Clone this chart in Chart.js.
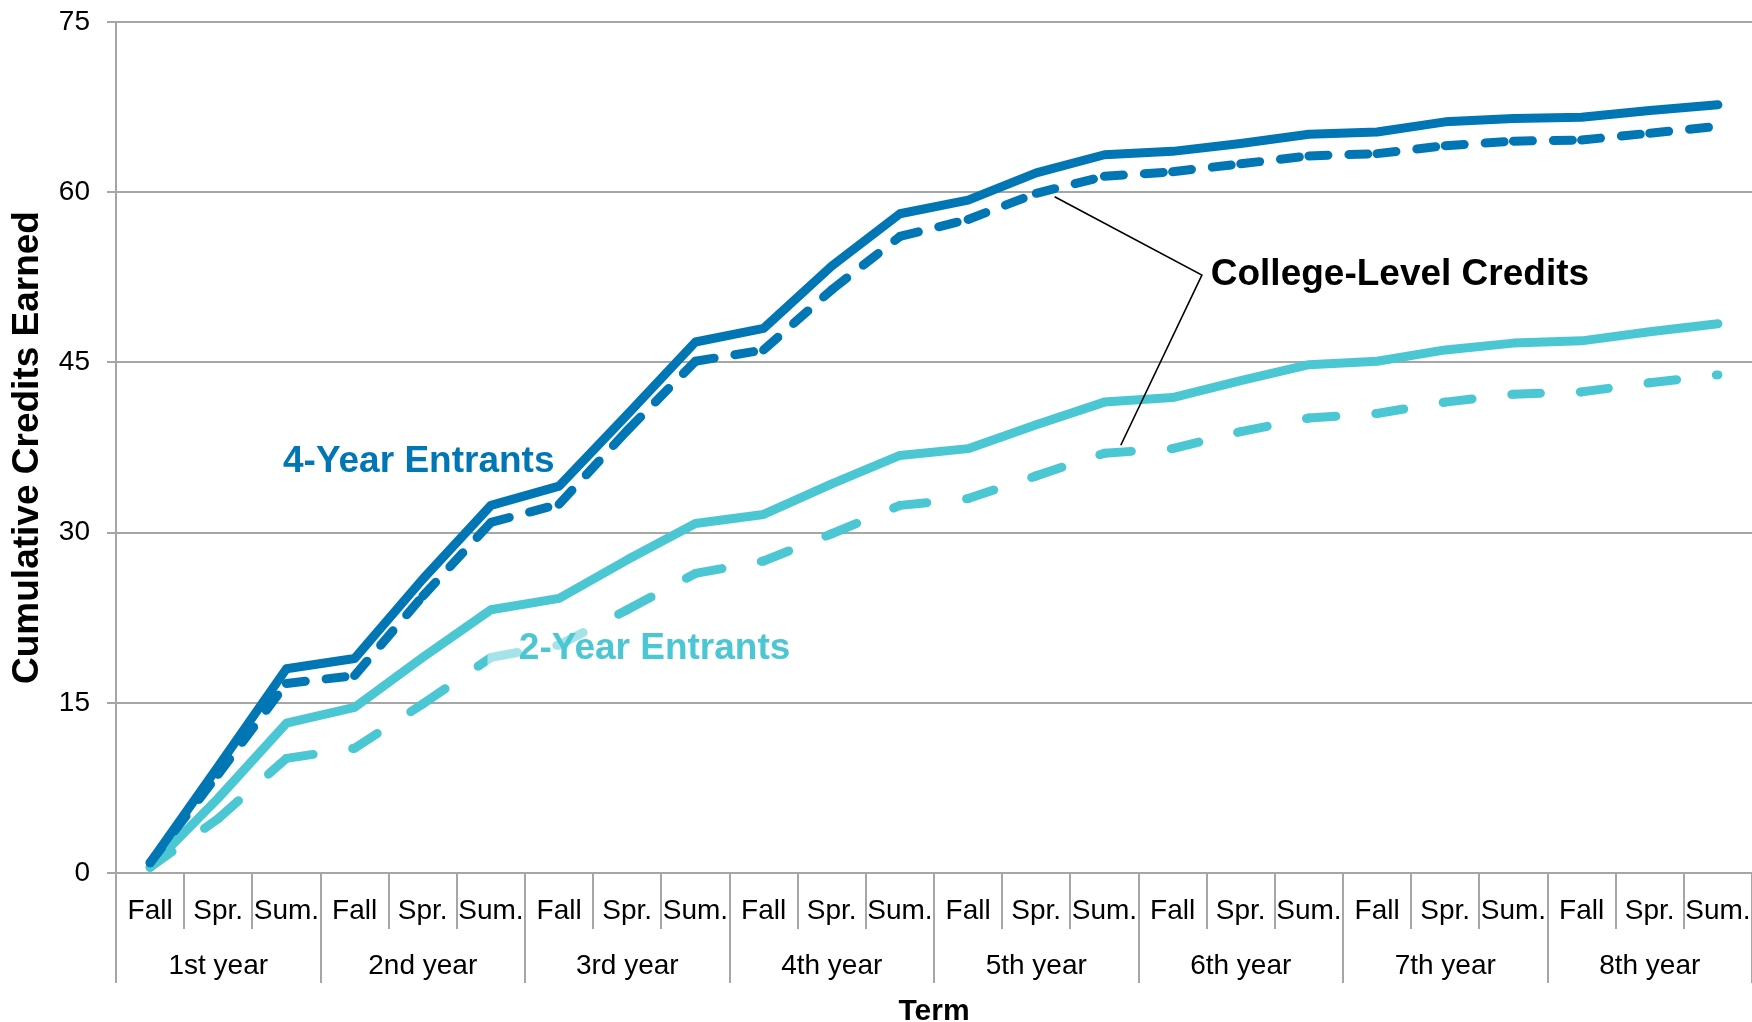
<!DOCTYPE html>
<html>
<head>
  <meta charset="utf-8">
  <title>Cumulative Credits Earned</title>
  <script src="https://cdn.jsdelivr.net/npm/chart.js"></script>
  <style>
    html, body { margin: 0; padding: 0; background: #fff; }
    #wrap { width: 1752px; height: 1022px; }
  </style>
</head>
<body>
  <div id="wrap"><canvas id="myChart"></canvas></div>

  <script>
    // Etiquetas del eje X (dos niveles)
    var terms = ['Fall', 'Spr.', 'Sum.', 'Fall', 'Spr.', 'Sum.', 'Fall', 'Spr.', 'Sum.',
                 'Fall', 'Spr.', 'Sum.', 'Fall', 'Spr.', 'Sum.', 'Fall', 'Spr.', 'Sum.',
                 'Fall', 'Spr.', 'Sum.', 'Fall', 'Spr.', 'Sum.'];
    var years = ['1st year', '2nd year', '3rd year', '4th year', '5th year', '6th year', '7th year', '8th year'];

    // Créditos acumulados (todos) y solo college-level
    var fourYearAll = [0.9, 9.4, 18.0, 18.9, 25.9, 32.4, 34.1, 40.4, 46.8, 48.0, 53.5, 58.1,
                       59.3, 61.7, 63.3, 63.6, 64.3, 65.1, 65.3, 66.2, 66.5, 66.6, 67.2, 67.7];
    var fourYearCollege = [0.9, 8.7, 16.7, 17.4, 24.4, 30.9, 32.5, 39.0, 45.1, 46.1, 51.4, 56.1,
                           57.6, 59.9, 61.4, 61.8, 62.5, 63.2, 63.4, 64.1, 64.5, 64.6, 65.2, 65.8];
    var twoYearAll = [0.5, 6.6, 13.2, 14.6, 19.0, 23.2, 24.2, 27.6, 30.8, 31.6, 34.3, 36.8,
                      37.4, 39.5, 41.5, 41.9, 43.4, 44.8, 45.1, 46.1, 46.7, 46.9, 47.7, 48.4];
    var twoYearCollege = [0.5, 4.8, 10.1, 11.0, 14.9, 19.0, 20.1, 23.2, 26.4, 27.5, 29.9, 32.4,
                          33.0, 35.0, 37.0, 37.4, 38.9, 40.1, 40.5, 41.5, 42.2, 42.4, 43.2, 43.9];

    var darkBlue = '#0077B4';
    var lightBlue = '#4BC7D3';
    var gridGray = '#A6A6A6';

    Chart.defaults.font.family = "'Liberation Sans', Arial, sans-serif";
    Chart.defaults.color = '#000';

    // El guion vuelve a empezar en cada tramo (como en Excel):
    // un offset casi nulo que alterna obliga a dibujar cada tramo por separado
    var restartDash = function(ctx) { return ctx.p0DataIndex % 2 ? 0.001 : 0; };

    // Textos y líneas guía, en unidades de los ejes (índice de término, créditos)
    var notesPlugin = {
      id: 'notes',
      afterDatasetsDraw: function(chart) {
        var c = chart.ctx, xs = chart.scales.x, ys = chart.scales.y;
        var px = function(v) { return xs.getPixelForValue(v); };
        var py = function(v) { return ys.getPixelForValue(v); };
        c.save();

        // caja semitransparente detrás de "2-Year Entrants"
        c.fillStyle = 'rgba(255,255,255,0.5)';
        c.fillRect(px(4.95), py(22.1), px(9.45) - px(4.95), py(18.1) - py(22.1));

        c.font = "bold 37px 'Liberation Sans', Arial, sans-serif";
        c.textAlign = 'left';
        c.textBaseline = 'alphabetic';
        c.fillStyle = darkBlue;
        c.fillText('4-Year Entrants', px(1.95), py(35.3));
        c.fillStyle = lightBlue;
        c.fillText('2-Year Entrants', px(5.41), py(18.9));
        c.fillStyle = '#000';
        c.fillText('College-Level Credits', px(15.56), py(51.8));

        c.strokeStyle = '#000';
        c.lineWidth = 1.6;
        c.beginPath();
        c.moveTo(px(13.27), py(59.6));
        c.lineTo(px(15.43), py(52.7));
        c.lineTo(px(14.24), py(37.7));
        c.stroke();
        c.restore();
      }
    };

    var ctx = document.getElementById('myChart').getContext('2d');
    var myChart = new Chart(ctx, {
      type: 'line',
      data: {
        labels: terms,
        datasets: [{
          label: '4-Year college-level',
          data: fourYearCollege,
          borderColor: darkBlue,
          borderDash: [19, 21],
          segment: { borderDashOffset: restartDash }
        }, {
          label: '4-Year all',
          data: fourYearAll,
          borderColor: darkBlue
        }, {
          label: '2-Year college-level',
          data: twoYearCollege,
          borderColor: lightBlue,
          borderDash: [27, 40],
          segment: { borderDashOffset: restartDash }
        }, {
          label: '2-Year all',
          data: twoYearAll,
          borderColor: lightBlue
        }]
      },
      options: {
        responsive: true,
        maintainAspectRatio: false,
        animation: false,
        devicePixelRatio: 1,
        layout: { padding: { top: 22, right: 0, bottom: 0, left: 0 } },
        elements: {
          point: { radius: 0, hoverRadius: 0 },
          line: { borderWidth: 9, tension: 0, fill: false, borderCapStyle: 'round', borderJoinStyle: 'round' }
        },
        plugins: {
          legend: { display: false },
          tooltip: { enabled: false }
        },
        scales: {
          x: {
            type: 'category',
            position: 'bottom',
            offset: true,
            grid: { offset: true, drawOnChartArea: false, drawTicks: true, tickLength: 56, color: gridGray, lineWidth: 2 },
            border: { display: true, color: gridGray, width: 2 },
            ticks: { font: { size: 28 }, color: '#000', padding: -35, maxRotation: 0, autoSkip: false },
            afterFit: function(s) { s.height = 54; }
          },
          x2: {
            type: 'category',
            labels: years,
            position: 'bottom',
            offset: true,
            grid: { offset: true, drawOnChartArea: false, drawTicks: true, tickLength: 56, color: gridGray, lineWidth: 2 },
            border: { display: false },
            ticks: { font: { size: 28 }, color: '#000', padding: -34, maxRotation: 0, autoSkip: false },
            title: { display: true, text: 'Term', color: '#000', font: { size: 30, weight: 'bold', lineHeight: 1 }, padding: { top: 0, bottom: -5 } },
            afterFit: function(s) { s.height = 95; }
          },
          y: {
            min: 0,
            max: 75,
            ticks: { stepSize: 15, font: { size: 28 }, color: '#000', padding: 17 },
            grid: { color: gridGray, lineWidth: 2, tickLength: 9 },
            border: { color: gridGray, width: 2 },
            title: { display: true, text: 'Cumulative Credits Earned', color: '#000', font: { size: 37, weight: 'bold' }, padding: { top: 6, bottom: 0 } },
            afterFit: function(s) { s.width = 116; s.paddingTop = 0; s.paddingBottom = 0; }
          }
        }
      },
      plugins: [notesPlugin]
    });
  </script>
</body>
</html>
